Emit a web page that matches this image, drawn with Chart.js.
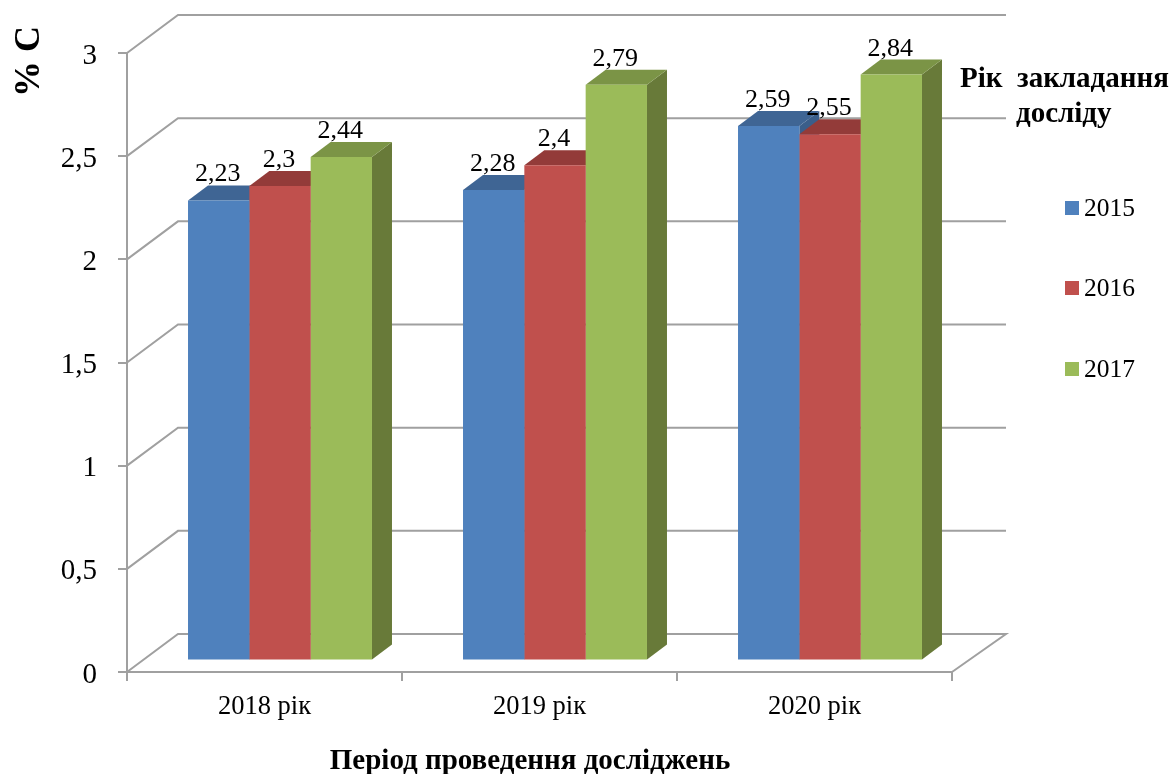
<!DOCTYPE html>
<html>
<head>
<meta charset="utf-8">
<title>Вміст вуглецю</title>
<style>
  html, body { margin: 0; padding: 0; background: #fff; }
  canvas { display: block; }
</style>
<script src="https://cdn.jsdelivr.net/npm/chart.js@4"></script>
</head>
<body>
<canvas id="chart" width="1173" height="774"></canvas>
<script>
const categories = ['2018 рік', '2019 рік', '2020 рік'];
const series2015 = [2.23, 2.28, 2.59];
const series2016 = [2.3, 2.4, 2.55];
const series2017 = [2.44, 2.79, 2.84];
const seriesNames = ['2015', '2016', '2017'];
const yTicks = [0, 0.5, 1, 1.5, 2, 2.5, 3];

const FONT = '"Liberation Serif", "Times New Roman", serif';
const GRID = '#a0a0a0';
const fronts = ['#4f81bd', '#c0504d', '#9bbb59'];
const tops = ['#3f6594', '#933b39', '#7b9446'];
const sides = ['#3a5e8a', '#8a3634', '#687a39'];

// bars stand part way into the floor, the back wall sits behind them
const BAR_DX = 15.5, BAR_DY = -11.5;
const DEPTH_X = 20, DEPTH_Y = -15;
const WALL_LEFT = 51, WALL_RIGHT = 54, WALL_DY = -38;

const comma = v => String(v).replace('.', ',');

function poly(ctx, color, pts) {
    ctx.fillStyle = color;
    ctx.beginPath();
    pts.forEach((p, i) => i ? ctx.lineTo(p[0], p[1]) : ctx.moveTo(p[0], p[1]));
    ctx.closePath();
    ctx.fill();
}

const depthPlugin = {
    id: 'depth',
    beforeDatasetsDraw(chart) {
        const { ctx, chartArea: area, scales: { y } } = chart;

        // back wall and left wall grid lines
        ctx.save();
        ctx.strokeStyle = GRID;
        ctx.lineWidth = 2;
        yTicks.forEach(t => {
            const py = y.getPixelForValue(t);
            ctx.beginPath();
            ctx.moveTo(area.left, py);
            ctx.lineTo(area.left + WALL_LEFT, py + WALL_DY);
            ctx.lineTo(area.right + WALL_RIGHT, py + WALL_DY);
            if (t === 0) ctx.lineTo(area.right, py);
            ctx.stroke();
        });
        ctx.restore();

        ctx.save();
        ctx.translate(BAR_DX, BAR_DY);
        categories.forEach((c, i) => {
            chart.data.datasets.forEach((ds, d) => {
                const b = chart.getDatasetMeta(d).data[i];
                const l = b.x - b.width / 2, r = b.x + b.width / 2;
                poly(ctx, sides[d], [[r, b.y], [r + DEPTH_X, b.y + DEPTH_Y], [r + DEPTH_X, b.base + DEPTH_Y], [r, b.base]]);
                poly(ctx, tops[d], [[l, b.y], [l + DEPTH_X, b.y + DEPTH_Y], [r + DEPTH_X, b.y + DEPTH_Y], [r, b.y]]);
            });
        });
        // the native bars are the front faces, keep this translate for them
    },
    afterDatasetsDraw(chart) {
        const { ctx } = chart;
        ctx.restore();

        // value labels
        ctx.save();
        ctx.fillStyle = '#000';
        ctx.font = '26px ' + FONT;
        ctx.textAlign = 'center';
        ctx.textBaseline = 'alphabetic';
        chart.data.datasets.forEach((ds, d) => {
            chart.getDatasetMeta(d).data.forEach((b, i) => {
                ctx.fillText(comma(ds.data[i]), b.x + BAR_DX - 1, b.y + BAR_DY - 19);
            });
        });

        // legend
        ctx.textAlign = 'left';
        ctx.textBaseline = 'middle';
        ctx.font = '25.5px ' + FONT;
        [208, 288, 369].forEach((ly, d) => {
            ctx.fillStyle = fronts[d];
            ctx.fillRect(1065, ly - 7, 14, 14);
            ctx.fillStyle = '#000';
            ctx.fillText(seriesNames[d], 1084, ly + 1);
        });

        // titles
        ctx.textBaseline = 'alphabetic';
        ctx.font = 'bold 29px ' + FONT;
        ctx.fillText('Рік  закладання', 960, 87);
        ctx.fillText('досліду', 1016, 122);
        ctx.textAlign = 'center';
        ctx.fillText('Період проведення досліджень', 530, 769);
        ctx.translate(39, 97);
        ctx.rotate(-Math.PI / 2);
        ctx.textAlign = 'left';
        ctx.font = 'bold 36px ' + FONT;
        ctx.fillText('% C', 0, 0);
        ctx.restore();
    }
};

new Chart(document.getElementById('chart'), {
    type: 'bar',
    data: {
        labels: categories,
        datasets: [
            { label: seriesNames[0], data: series2015, backgroundColor: fronts[0] },
            { label: seriesNames[1], data: series2016, backgroundColor: fronts[1] },
            { label: seriesNames[2], data: series2017, backgroundColor: fronts[2] }
        ]
    },
    options: {
        responsive: false,
        animation: false,
        events: [],
        layout: { padding: { top: 53, right: 221 } },
        datasets: { bar: { categoryPercentage: 0.669, barPercentage: 1, clip: false } },
        plugins: { legend: { display: false }, tooltip: { enabled: false } },
        scales: {
            x: {
                afterFit: s => { s.height = 102; },
                border: { color: GRID, width: 2 },
                grid: { color: GRID, lineWidth: 2, drawOnChartArea: false, tickLength: 9 },
                ticks: { color: '#000', padding: 10, maxRotation: 0, font: { family: FONT, size: 26.5 } }
            },
            y: {
                min: 0,
                max: 3,
                afterFit: s => { s.width = 127; },
                afterBuildTicks: s => { s.ticks = yTicks.map(v => ({ value: v })); },
                border: { color: GRID, width: 2 },
                grid: { color: GRID, lineWidth: 2, drawOnChartArea: false, tickLength: 9 },
                ticks: { color: '#000', padding: 21, labelOffset: 3, callback: comma, font: { family: FONT, size: 29 } }
            }
        }
    },
    plugins: [depthPlugin]
});
</script>
</body>
</html>
